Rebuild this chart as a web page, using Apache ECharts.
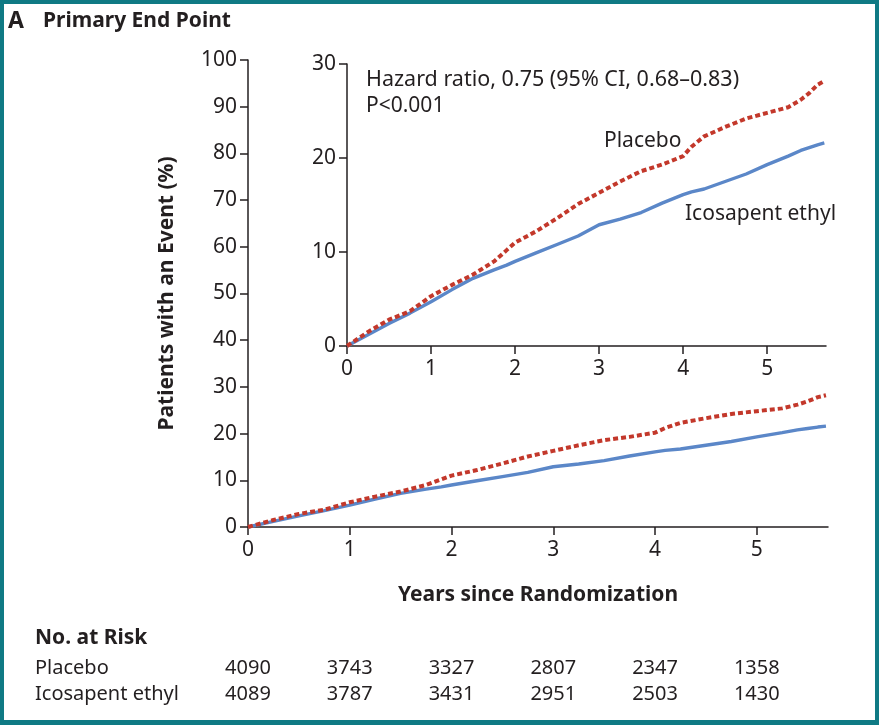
<!DOCTYPE html>
<html><head><meta charset="utf-8">
<script src="https://cdn.jsdelivr.net/npm/echarts@6/dist/echarts.min.js"></script>
<style>
html,body{margin:0;padding:0;background:#fff;}
#frame{position:absolute;left:0;top:0;width:879px;height:725px;box-sizing:border-box;border:4px solid #0f7a84;border-bottom-width:5px;background:#fff;}
#chart{position:absolute;left:0;top:0;width:879px;height:725px;}
</style></head>
<body>
<div id="frame"></div>
<div id="chart"></div>
<script>
// ---- data ----
const years = [0, 0.25, 0.5, 0.75, 1.0, 1.25, 1.5, 1.75, 1.9, 2.0, 2.25, 2.5, 2.75, 3.0, 3.25, 3.5, 3.75, 4.0, 4.1, 4.25, 4.5, 4.75, 5.0, 5.25, 5.4, 5.5, 5.6, 5.68];
const placebo = [0, 1.5, 2.8, 3.7, 5.3, 6.5, 7.6, 9.0, 10.2, 11.0, 12.2, 13.6, 15.1, 16.3, 17.5, 18.6, 19.3, 20.2, 21.2, 22.3, 23.3, 24.2, 24.8, 25.4, 26.2, 26.9, 27.8, 28.2];
const icosapent = [0, 1.2, 2.4, 3.5, 4.7, 6.0, 7.2, 8.1, 8.6, 9.0, 9.9, 10.8, 11.7, 12.9, 13.5, 14.2, 15.2, 16.1, 16.4, 16.7, 17.5, 18.3, 19.3, 20.2, 20.8, 21.1, 21.4, 21.6];
const xTicks = [0, 1, 2, 3, 4, 5];
const mainYTicks = [0, 10, 20, 30, 40, 50, 60, 70, 80, 90, 100];
const insetYTicks = [0, 10, 20, 30];
const riskPlacebo = [4090, 3743, 3327, 2807, 2347, 1358];
const riskIcosapent = [4089, 3787, 3431, 2951, 2503, 1430];

const FONT = 'Noto Sans';
const INK = '#231f20';
const RED = '#c3382b';
const BLUE = '#5b87c8';

const chart = echarts.init(document.getElementById('chart'), null, {renderer: 'canvas'});
const pts = arr => years.map((x, i) => [x, arr[i]]);

function xAxis(grid, showName) {
  return {
    type: 'value', gridIndex: grid, min: 0, max: 5.7, interval: 1,
    axisLine: {lineStyle: {color: INK, width: 1.5}},
    axisTick: {length: 8, lineStyle: {color: INK, width: 1.5}, customValues: xTicks},
    axisLabel: {color: INK, fontFamily: FONT, fontSize: 21, margin: 13, customValues: xTicks},
    splitLine: {show: false},
    name: showName ? 'Years since Randomization' : '',
    nameLocation: 'middle', nameGap: 58,
    nameTextStyle: {color: INK, fontFamily: FONT, fontSize: 21, fontWeight: 'bold'}
  };
}
function yAxis(grid, max, ticks, showName) {
  return {
    type: 'value', gridIndex: grid, min: 0, max: max, interval: 10,
    axisLine: {show: true, lineStyle: {color: INK, width: 1.5}},
    axisTick: {show: true, length: 8, lineStyle: {color: INK, width: 1.5}, customValues: ticks},
    axisLabel: {color: INK, fontFamily: FONT, fontSize: 21, margin: 11, customValues: ticks},
    splitLine: {show: false},
    name: showName ? 'Patients with an Event (%)' : '',
    nameLocation: 'middle', nameRotate: 90, nameGap: 70,
    nameTextStyle: {color: INK, fontFamily: FONT, fontSize: 21, fontWeight: 'bold'}
  };
}
function series(name, arr, grid, dashed) {
  return {
    type: 'line', name: name, xAxisIndex: grid, yAxisIndex: grid,
    data: pts(arr), showSymbol: false, smooth: false, animation: false,
    z: dashed ? 4 : 3,
    lineStyle: dashed ? {color: RED, width: 4, type: [5, 3]} : {color: BLUE, width: 3.4}
  };
}

chart.setOption({
  animation: false,
  textStyle: {fontFamily: FONT},
  grid: [
    {left: 248, top: 60, width: 580, height: 467},
    {left: 347, top: 64, width: 479, height: 282}
  ],
  xAxis: [xAxis(0, true), xAxis(1, false)],
  yAxis: [yAxis(0, 100, mainYTicks, true), yAxis(1, 30, insetYTicks, false)],
  series: [
    series('Icosapent ethyl', icosapent, 0, false),
    series('Placebo', placebo, 0, true),
    series('Icosapent ethyl', icosapent, 1, false),
    series('Placebo', placebo, 1, true)
  ]
});

const txt = (x, y, s, opt) => Object.assign({
  type: 'text', x: x, y: y,
  style: Object.assign({text: s, fill: INK, font: '21px "' + FONT + '"', textVerticalAlign: 'middle'}, opt || {})
});
const g = [
  txt(8, 21, 'A', {font: 'bold 23px "' + FONT + '"'}),
  txt(43, 21, 'Primary End Point', {font: 'bold 21px "' + FONT + '"'}),
  txt(366, 80, 'Hazard ratio, 0.75 (95% CI, 0.68\u20130.83)', {font: '21.5px "' + FONT + '"'}),
  txt(366, 106, 'P<0.001'),
  txt(604, 141, 'Placebo'),
  txt(685, 214, 'Icosapent ethyl'),
  txt(35, 638, 'No. at Risk', {font: 'bold 21px "' + FONT + '"'}),
  txt(35, 668, 'Placebo', {font: '20px "' + FONT + '"'}),
  txt(35, 694, 'Icosapent ethyl', {font: '20px "' + FONT + '"'})
];
xTicks.forEach((t, i) => {
  const px = chart.convertToPixel({xAxisIndex: 0}, t);
  g.push(txt(px, 668, String(riskPlacebo[i]), {textAlign: 'center', font: '20px "' + FONT + '"'}));
  g.push(txt(px, 694, String(riskIcosapent[i]), {textAlign: 'center', font: '20px "' + FONT + '"'}));
});
chart.setOption({graphic: g});
</script>
</body></html>
